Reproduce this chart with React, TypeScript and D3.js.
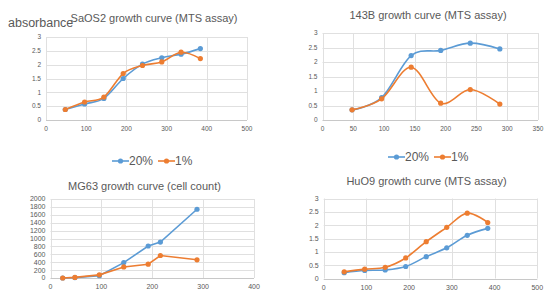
import * as d3 from "d3";
import { useEffect, useRef } from "react";

// hours after seeding
const hoursLong = [48, 96, 144, 192, 240, 288, 336, 384];
const hours143b = [48, 96, 144, 192, 240, 288];
const hoursMg63 = [24, 48, 96, 144, 192, 216, 288];

// SaOS2 (MTS absorbance)
const saos2High = [0.38, 0.58, 0.78, 1.5, 2.02, 2.25, 2.38, 2.58];
const saos2Low = [0.38, 0.65, 0.83, 1.68, 1.97, 2.1, 2.45, 2.22];

// 143B (MTS absorbance)
const b143High = [0.35, 0.77, 2.22, 2.4, 2.65, 2.45];
const b143Low = [0.35, 0.73, 1.82, 0.58, 1.05, 0.55];

// MG63 (cell count)
const mg63High = [0, 10, 60, 390, 810, 910, 1740];
const mg63Low = [0, 15, 80, 280, 350, 570, 460];

// HuO9 (MTS absorbance)
const huo9High = [0.22, 0.3, 0.32, 0.45, 0.82, 1.15, 1.62, 1.88];
const huo9Low = [0.25, 0.35, 0.42, 0.77, 1.38, 1.92, 2.45, 2.1];

const seriesNames = ["20%", "1%"];
const blue = "#5b9bd5";
const orange = "#ed7d31";
const textColor = "#595959";

const panels = [
  {
    title: "SaOS2 growth curve (MTS assay)",
    titlePos: [154, 22],
    box: [46, 247, 37, 120],
    xMax: 500, xStep: 100, yMax: 3, yStep: 0.5,
    fontSize: 6.5, smooth: true,
    x: hoursLong, high: saos2High, low: saos2Low,
    legend: null,
  },
  {
    title: "143B growth curve (MTS assay)",
    titlePos: [428, 19],
    box: [322.5, 538, 33, 120],
    xMax: 350, xStep: 50, yMax: 3, yStep: 0.5,
    fontSize: 6.5, smooth: true,
    x: hours143b, high: b143High, low: b143Low,
    legend: null,
  },
  {
    title: "MG63 growth curve (cell count)",
    titlePos: [144.5, 190],
    box: [50.5, 254, 199, 278],
    xMax: 400, xStep: 100, yMax: 2000, yStep: 200,
    fontSize: 7, smooth: false,
    x: hoursMg63, high: mg63High, low: mg63Low,
    legend: [112, 161],
  },
  {
    title: "HuO9 growth curve (MTS assay)",
    titlePos: [426.5, 185],
    box: [323.7, 537.3, 198.5, 278.5],
    xMax: 500, xStep: 100, yMax: 3, yStep: 0.5,
    fontSize: 7, smooth: true,
    x: hoursLong, high: huo9High, low: huo9Low,
    legend: [388, 157],
  },
];

const App = () => {
  const ref = useRef(null);

  useEffect(() => {
    const svg = d3.select(ref.current);
    svg.selectAll("*").remove();
    svg.style("font-family", "'Liberation Sans', Arial, sans-serif");

    svg
      .append("text")
      .attr("x", 8)
      .attr("y", 27)
      .attr("font-size", 12.5)
      .attr("fill", textColor)
      .text("absorbance");

    panels.forEach((p) => {
      const [left, right, top, bottom] = p.box;
      const x = d3.scaleLinear().domain([0, p.xMax]).range([left, right]);
      const y = d3.scaleLinear().domain([0, p.yMax]).range([bottom, top]);
      const g = svg.append("g");

      const xTicks = d3.range(0, p.xMax + p.xStep / 2, p.xStep);
      const yTicks = d3.range(0, p.yMax + p.yStep / 2, p.yStep);

      // gridlines
      g.selectAll(".hg")
        .data(yTicks)
        .enter()
        .append("line")
        .attr("x1", left)
        .attr("x2", right)
        .attr("y1", (d) => Math.round(y(d)) + 0.5)
        .attr("y2", (d) => Math.round(y(d)) + 0.5)
        .attr("stroke", (d) => (d === 0 ? "#c8c8c8" : "#e0e0e0"))
        .attr("stroke-width", 1);
      g.selectAll(".vg")
        .data(xTicks)
        .enter()
        .append("line")
        .attr("y1", top)
        .attr("y2", bottom)
        .attr("x1", (d) => Math.round(x(d)) + 0.5)
        .attr("x2", (d) => Math.round(x(d)) + 0.5)
        .attr("stroke", "#e0e0e0")
        .attr("stroke-width", 1);

      // tick labels
      g.selectAll(".yl")
        .data(yTicks)
        .enter()
        .append("text")
        .attr("x", left - 5)
        .attr("y", (d) => y(d))
        .attr("dy", "0.35em")
        .attr("text-anchor", "end")
        .attr("font-size", p.fontSize)
        .attr("fill", textColor)
        .text((d) => String(d));
      g.selectAll(".xl")
        .data(xTicks)
        .enter()
        .append("text")
        .attr("x", (d) => x(d))
        .attr("y", bottom + 11)
        .attr("text-anchor", "middle")
        .attr("font-size", p.fontSize)
        .attr("fill", textColor)
        .text((d) => String(d));

      g.append("text")
        .attr("x", p.titlePos[0])
        .attr("y", p.titlePos[1])
        .attr("text-anchor", "middle")
        .attr("font-size", 11)
        .attr("fill", textColor)
        .text(p.title);

      const line = d3
        .line()
        .x((d) => x(d[0]))
        .y((d) => y(d[1]))
        .curve(p.smooth ? d3.curveCardinal.tension(0) : d3.curveLinear);

      [
        { vals: p.high, color: blue },
        { vals: p.low, color: orange },
      ].forEach((s) => {
        const pts = p.x.map((h, i) => [h, s.vals[i]]);
        g.append("path")
          .attr("d", line(pts))
          .attr("fill", "none")
          .attr("stroke", s.color)
          .attr("stroke-width", 1.6);
        g.selectAll(null)
          .data(pts)
          .enter()
          .append("circle")
          .attr("cx", (d) => x(d[0]))
          .attr("cy", (d) => y(d[1]))
          .attr("r", 2.6)
          .attr("fill", s.color);
      });

      if (p.legend) {
        const [lx, ly] = p.legend;
        const items = [
          { name: seriesNames[0], color: blue, off: 0 },
          { name: seriesNames[1], color: orange, off: 46 },
        ];
        items.forEach((it) => {
          const lg = g.append("g").attr("transform", `translate(${lx + it.off},${ly})`);
          lg.append("line")
            .attr("x1", 0)
            .attr("x2", 17)
            .attr("stroke", it.color)
            .attr("stroke-width", 1.6);
          lg.append("circle").attr("cx", 8.5).attr("r", 2.6).attr("fill", it.color);
          lg.append("text")
            .attr("x", 17)
            .attr("dy", "0.36em")
            .attr("font-size", 12)
            .attr("fill", textColor)
            .text(it.name);
        });
      }
    });
  }, []);

  return (
    <svg
      ref={ref}
      width={547}
      height={294}
      style={{ position: "absolute", left: 0, top: 0, background: "#fff" }}
    />
  );
};

export default App;
